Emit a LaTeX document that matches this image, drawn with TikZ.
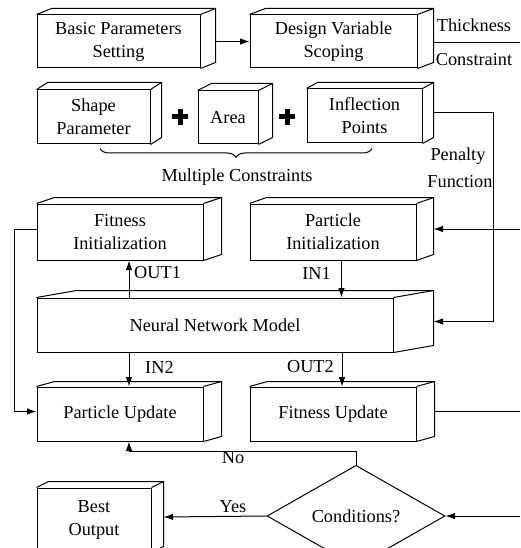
\documentclass[tikz,border=0pt]{standalone}
\usepackage{fontspec}
\setmainfont{Liberation Serif}
\usetikzlibrary{arrows.meta,calc,shapes.geometric,decorations.pathreplacing}

% Box with an oblique depth face: name, x, y, width, height, dx, dy, text
\newcommand\drawcuboid[8]{%
  \node[cubefront, minimum width=#4pt, minimum height=#5pt] (#1) at (#2,#3) {#8};
  \draw[cubeline] (#1.north west) -- ++(#6,#7) -- ($(#1.north east)+(#6,#7)$)
     -- ($(#1.south east)+(#6,#7)$) -- (#1.south east);
  \draw[cubeline] (#1.north east) -- ++(#6,#7);
  \coordinate (#1-r) at ($(#1.east)+(#6,#7/2)$);
  \coordinate (#1-l) at ($(#1.west)+(0,#7/2)$);
  \coordinate (#1-n) at ($(#1.north)+(#6/2,0)$);
  \coordinate (#1-s) at ($(#1.south)+(#6/2,0)$);
}

\tikzset{
  every node/.style={font=\fontsize{18.3}{23}\selectfont},
  cubefront/.style={draw, line width=1pt, inner sep=0pt, align=center, fill=white},
  cubeline/.style={line width=1pt, line join=miter},
  link/.style={line width=1pt},
  arr/.style={link, -{Latex[length=9.5pt,width=6.5pt]}},
  lbl/.style={inner sep=0pt},
}

\begin{document}
\begin{tikzpicture}[x=1pt, y=-1pt]
\useasboundingbox (0,0) rectangle (520,548);
\clip (0,0) rectangle (520,548);

% first row
\drawcuboid{bps}{118.5}{41.5}{163}{53}{15}{-6}{Basic Parameters\\Setting}
\drawcuboid{dvs}{333.5}{41.5}{167}{53}{16}{-6}{Design Variable\\Scoping}

% constraint boxes
\drawcuboid{sp}{93.5}{117}{113}{54}{11}{-7}{Shape\\Parameter}
\drawcuboid{ar}{228}{117.5}{60}{53}{14}{-7}{Area}
\drawcuboid{ip}{364.5}{116}{115}{54}{11}{-6}{Inflection\\Points}

% optimisation loop
\drawcuboid{fi}{120}{232}{166}{56}{18}{-6}{Fitness\\Initialization}
\drawcuboid{pi}{333}{232}{166}{56}{17}{-6}{Particle\\Initialization}
\drawcuboid{nn}{215}{325}{356}{54}{40}{-7}{Neural Network Model}
\drawcuboid{pu}{120}{414}{166}{54}{18}{-5}{Particle Update}
\drawcuboid{fu}{333}{414}{166}{54}{18}{-5}{Fitness Update}
\drawcuboid{bo}{94}{520}{114}{64}{12}{-6}{Best\\Output}

\node[draw, diamond, line width=1pt, inner sep=0pt, minimum width=178pt,
      minimum height=68pt] (cond) at (356,516) {Conditions?};

% plus signs between the constraint boxes
\fill (172,114.5) rectangle (188,119.5);
\fill (177.5,109) rectangle (182.5,125);
\fill (279,114.5) rectangle (295,119.5);
\fill (284.5,109) rectangle (289.5,125);

% brace grouping the constraints
\draw[link, decorate, decoration={brace, amplitude=9pt, mirror}]
  ($(sp.south)+(6.5,4)$) -- ($(ip.south)+(7.5,5)$);
\node[lbl] (mc) at (237,177) {Multiple Constraints};

% free ends at the right border
\coordinate (thkend) at (520,43);
\coordinate (piin) at (520,229);
\coordinate (fuout) at (520,411.5);
\coordinate (condin) at (520,516);

% connectors
\draw[arr] ($(bps.east)+(15,0)$) -- (dvs.west);
\draw[link] ($(dvs.east)+(16,1.5)$) -- (thkend);
\node[lbl] (thk) at (474,25) {Thickness};
\node[lbl] (con) at (474,60) {Constraint};

\draw[arr] (ip-r) -| ($(nn-r)+(60,0)$) -- (nn-r);
\node[lbl] (pen) at (458,156) {Penalty};
\node[lbl] (fun) at (460,182) {Function};

\draw[arr] (piin) -- (pi-r);

\draw[arr] (fi-s |- nn.north) -- (fi-s);
\node[lbl, anchor=west] (o1) at (134,273) {OUT1};
\draw[arr] (pi-s) -- (pi-s |- nn.north);
\node[lbl, anchor=east] (i1) at (331,273) {IN1};

\draw[arr] (pu-n |- nn.south) -- (pu-n);
\node[lbl, anchor=west] (i2) at (145,367) {IN2};
\draw[arr] (fu-n |- nn.south) -- (fu-n);
\node[lbl, anchor=east] (o2) at (334,367) {OUT2};

\draw[arr] (fi-l) -- ++(-22,0) |- (pu-l);
\draw[link] (fu-r) -- (fuout);

\draw[arr] (cond.north) -- ++(0,-13) -| (pu-s);
\node[lbl] (no) at (233,458) {No};
\draw[arr] (condin) -- (cond.east);
\draw[arr] (cond.west) -- (bo-r);
\node[lbl] (yes) at (233,507) {Yes};
\end{tikzpicture}
\end{document}
